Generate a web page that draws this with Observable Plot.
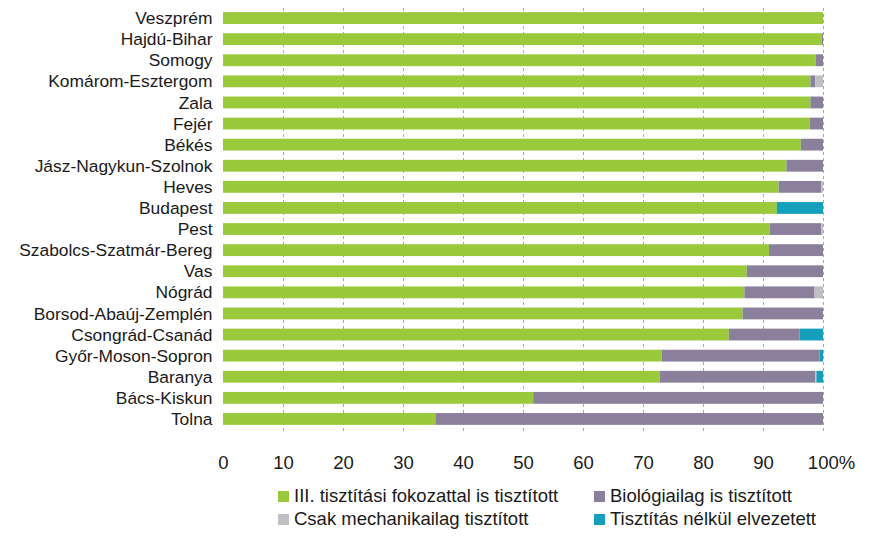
<!DOCTYPE html>
<html>
<head>
<meta charset="utf-8">
<script src="https://cdn.jsdelivr.net/npm/d3@7"></script>
<script src="https://cdn.jsdelivr.net/npm/@observablehq/plot@0.6"></script>
<style>
  html, body { margin: 0; padding: 0; background: #fff; }
  #wrap { position: relative; width: 872px; height: 536px; font-family: 'Liberation Sans', Arial, sans-serif; color: #1a1a1a; }
  #legend { position: absolute; left: 0; top: 0; width: 872px; height: 536px; pointer-events: none; }
  .item { position: absolute; display: flex; align-items: center; font-size: 18.5px; line-height: 22px; white-space: nowrap; }
  .sw { width: 11px; height: 11px; margin-right: 5px; display: inline-block; }
</style>
</head>
<body>
<div id="wrap"><div id="chart"></div><div id="legend"></div></div>
<script>
const counties = ["Veszprém","Hajdú-Bihar","Somogy","Komárom-Esztergom","Zala","Fejér","Békés","Jász-Nagykun-Szolnok","Heves","Budapest","Pest","Szabolcs-Szatmár-Bereg","Vas","Nógrád","Borsod-Abaúj-Zemplén","Csongrád-Csanád","Győr-Moson-Sopron","Baranya","Bács-Kiskun","Tolna"];
const green = [100, 99.8, 98.8, 97.9, 97.9, 97.8, 96.3, 93.9, 92.6, 92.3, 91.1, 91.0, 87.3, 86.9, 86.6, 84.3, 73.1, 72.8, 51.7, 35.4];
const bio   = [0, 0.2, 1.2, 0.8, 2.1, 2.2, 3.7, 6.1, 7.1, 0, 8.6, 9.0, 12.7, 11.7, 13.4, 11.8, 26.3, 25.9, 48.3, 64.6];
const mech  = [0, 0, 0, 1.3, 0, 0, 0, 0, 0.3, 0, 0.3, 0, 0, 1.4, 0, 0, 0, 0.2, 0, 0];
const none  = [0, 0, 0, 0, 0, 0, 0, 0, 0, 7.7, 0, 0, 0, 0, 0, 3.9, 0.6, 1.1, 0, 0];
const seriesNames = ["III. tisztítási fokozattal is tisztított","Biológiailag is tisztított","Csak mechanikailag tisztított","Tisztítás nélkül elvezetett"];
const colors = ["#9bc93c","#8b809c","#bfc0c4","#169fbd"];
const xTicks = [0,10,20,30,40,50,60,70,80,90,100];

const series = [green, bio, mech, none];
const rows = [];
counties.forEach((c, i) => {
  series.forEach((s, j) => rows.push({county: c, series: seriesNames[j], value: s[i]}));
});

const chart = Plot.plot({
  width: 872,
  height: 480,
  marginLeft: 223,
  marginRight: 49,
  marginTop: 8,
  marginBottom: 46,
  style: {fontFamily: "'Liberation Sans', Arial, sans-serif", fontSize: "17.4px", color: "#1a1a1a", background: "#fff"},
  x: {domain: [0, 100], label: null},
  y: {domain: counties, range: [7.5, 429.5], paddingInner: 0.44, paddingOuter: 0.22, round: false, label: null},
  color: {domain: seriesNames, range: colors},
  marks: [
    Plot.ruleX(xTicks.filter(d => d > 0), {stroke: "#a8a8a8", strokeWidth: 1, strokeDasharray: "3,3"}),
    Plot.barX(rows, Plot.stackX({x: "value", y: "county", fill: "series", order: null})),
    Plot.axisY({tickSize: 0, tickPadding: 11, label: null, fontSize: 17.4}),
    Plot.axisX(xTicks.filter(d => d < 100), {tickSize: 0, tickPadding: 21, label: null, fontSize: 18.5, tickFormat: d => String(d)}),
    Plot.axisX([100], {tickSize: 0, tickPadding: 21, label: null, fontSize: 18.5, tickFormat: d => d + "%", dx: 8})
  ]
});
document.getElementById("chart").appendChild(chart);

const legendPos = [
  {left: 278, top: 485},
  {left: 594, top: 485},
  {left: 278, top: 508},
  {left: 594, top: 508}
];
const lg = document.getElementById("legend");
seriesNames.forEach((name, i) => {
  const it = document.createElement("div");
  it.className = "item";
  it.style.left = legendPos[i].left + "px";
  it.style.top = legendPos[i].top + "px";
  const sw = document.createElement("span");
  sw.className = "sw";
  sw.style.background = colors[i];
  const tx = document.createElement("span");
  tx.textContent = name;
  it.appendChild(sw);
  it.appendChild(tx);
  lg.appendChild(it);
});
</script>
</body>
</html>
